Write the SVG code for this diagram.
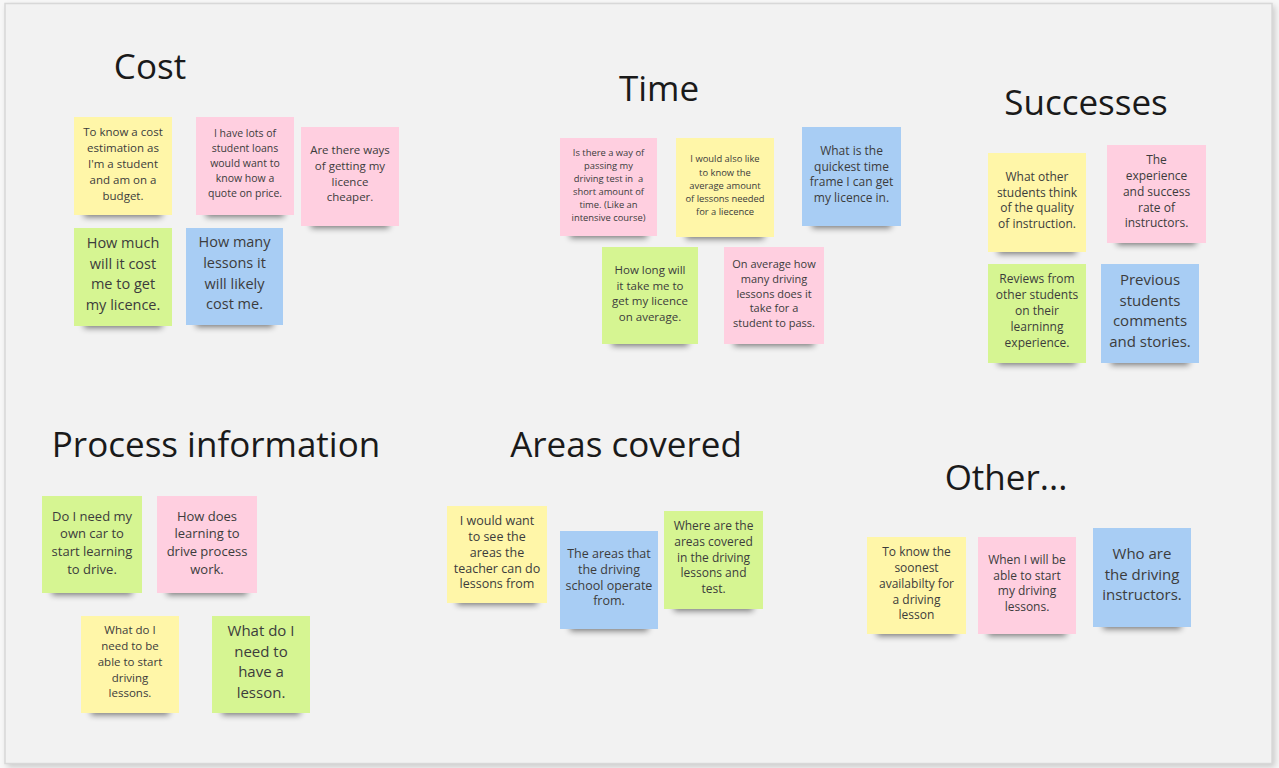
<svg xmlns="http://www.w3.org/2000/svg" width="1279" height="768" viewBox="0 0 1279 768">
<defs>
<filter id="blur" x="-20%" y="-100%" width="140%" height="300%"><feGaussianBlur stdDeviation="3"/></filter>
<filter id="frame" x="-5%" y="-5%" width="110%" height="110%"><feGaussianBlur stdDeviation="3"/></filter>
</defs>
<style>
.title{font-family:"Open Sans","Noto Sans",sans-serif;font-size:35px;fill:#1a1a1a;text-anchor:middle}
.t{font-family:"Open Sans","Noto Sans",sans-serif;fill:#3c3c3c;text-anchor:middle}
.y{fill:#fff6a8}
.p{fill:#ffcfe0}
.g{fill:#d6f592}
.b{fill:#a8cdf4}
.sh{fill:#000;opacity:0.5;filter:url(#blur)}
</style>
<rect x="0" y="0" width="1279" height="768" fill="#f7f7f7"/>
<rect x="7" y="6" width="1268" height="761" fill="#000" opacity="0.18" filter="url(#frame)"/>
<rect x="5" y="3.5" width="1267" height="760" fill="#f2f2f2" stroke="#d8d8d8" stroke-width="1.5"/>

<g id="titles">
<text class="title" x="150" y="79">Cost</text>
<text class="title" x="659" y="101">Time</text>
<text class="title" x="1086" y="115">Successes</text>
<text class="title" x="216" y="457">Process information</text>
<text class="title" x="626" y="457">Areas covered</text>
<text class="title" x="1006" y="490">Other...</text>
</g>

<g id="connectors"></g>

<!-- Cost -->
<g id="cost-1">
<rect class="sh" x="84" y="207" width="78" height="10"/>
<rect class="y" x="74" y="117" width="98" height="98"/>
<text class="t" font-size="11.5"><tspan x="123" y="136">To know a cost</tspan><tspan x="123" y="152">estimation as</tspan><tspan x="123" y="168">I'm a student</tspan><tspan x="123" y="184">and am on a</tspan><tspan x="123" y="200">budget.</tspan></text>
</g>
<g id="cost-2">
<rect class="sh" x="206" y="207" width="78" height="10"/>
<rect class="p" x="196" y="117" width="98" height="98"/>
<text class="t" font-size="10.5"><tspan x="245" y="137">I have lots of</tspan><tspan x="245" y="152">student loans</tspan><tspan x="245" y="167">would want to</tspan><tspan x="245" y="182">know how a</tspan><tspan x="245" y="197">quote on price.</tspan></text>
</g>
<g id="cost-3">
<rect class="sh" x="311" y="218" width="78" height="10"/>
<rect class="p" x="301" y="127" width="98" height="99"/>
<text class="t" font-size="11.5"><tspan x="350" y="154">Are there ways</tspan><tspan x="350" y="170">of getting my</tspan><tspan x="350" y="186">licence</tspan><tspan x="350" y="201">cheaper.</tspan></text>
</g>
<g id="cost-4">
<rect class="sh" x="84" y="318" width="78" height="10"/>
<rect class="g" x="74" y="228" width="98" height="98"/>
<text class="t" font-size="14.5"><tspan x="123" y="248">How much</tspan><tspan x="123" y="268.5">will it cost</tspan><tspan x="123" y="289">me to get</tspan><tspan x="123" y="309.5">my licence.</tspan></text>
</g>
<g id="cost-5">
<rect class="sh" x="196" y="317" width="77" height="10"/>
<rect class="b" x="186" y="228" width="97" height="97"/>
<text class="t" font-size="14.5"><tspan x="234.5" y="247">How many</tspan><tspan x="234.5" y="268">lessons it</tspan><tspan x="234.5" y="289">will likely</tspan><tspan x="234.5" y="309">cost me.</tspan></text>
</g>

<!-- Time -->
<g id="time-1">
<rect class="sh" x="570" y="228" width="77" height="10"/>
<rect class="p" x="560" y="138" width="97" height="98"/>
<text class="t" font-size="9.4" xml:space="preserve"><tspan x="608.5" y="155.5">Is there a way of</tspan><tspan x="608.5" y="168.5">passing my</tspan><tspan x="608.5" y="181.5">driving test in  a</tspan><tspan x="608.5" y="194.5">short amount of</tspan><tspan x="608.5" y="207.5">time. (Like an</tspan><tspan x="608.5" y="221">intensive course)</tspan></text>
</g>
<g id="time-2">
<rect class="sh" x="686" y="229" width="78" height="10"/>
<rect class="y" x="676" y="138" width="98" height="99"/>
<text class="t" font-size="9.4"><tspan x="725" y="162">I would also like</tspan><tspan x="725" y="175.5">to know the</tspan><tspan x="725" y="188.5">average amount</tspan><tspan x="725" y="202">of lessons needed</tspan><tspan x="725" y="215">for a liecence</tspan></text>
</g>
<g id="time-3">
<rect class="sh" x="812" y="218" width="79" height="10"/>
<rect class="b" x="802" y="127" width="99" height="99"/>
<text class="t" font-size="12"><tspan x="851.5" y="155">What is the</tspan><tspan x="851.5" y="170.5">quickest time</tspan><tspan x="851.5" y="186">frame I can get</tspan><tspan x="851.5" y="201.5">my licence in.</tspan></text>
</g>
<g id="time-4">
<rect class="sh" x="612" y="336" width="76" height="10"/>
<rect class="g" x="602" y="247" width="96" height="97"/>
<text class="t" font-size="11.5"><tspan x="650" y="274">How long will</tspan><tspan x="650" y="289.5">it take me to</tspan><tspan x="650" y="305">get my licence</tspan><tspan x="650" y="321">on average.</tspan></text>
</g>
<g id="time-5">
<rect class="sh" x="734" y="336" width="80" height="10"/>
<rect class="p" x="724" y="247" width="100" height="97"/>
<text class="t" font-size="11"><tspan x="774" y="268">On average how</tspan><tspan x="774" y="283">many driving</tspan><tspan x="774" y="297.5">lessons does it</tspan><tspan x="774" y="312">take for a</tspan><tspan x="774" y="327">student to pass.</tspan></text>
</g>

<!-- Successes -->
<g id="succ-1">
<rect class="sh" x="998" y="244" width="78" height="10"/>
<rect class="y" x="988" y="153" width="98" height="99"/>
<text class="t" font-size="12"><tspan x="1037" y="181">What other</tspan><tspan x="1037" y="196.5">students think</tspan><tspan x="1037" y="212">of the quality</tspan><tspan x="1037" y="227.5">of instruction.</tspan></text>
</g>
<g id="succ-2">
<rect class="sh" x="1117" y="235" width="79" height="10"/>
<rect class="p" x="1107" y="145" width="99" height="98"/>
<text class="t" font-size="12"><tspan x="1156.5" y="164">The</tspan><tspan x="1156.5" y="180">experience</tspan><tspan x="1156.5" y="196">and success</tspan><tspan x="1156.5" y="211.5">rate of</tspan><tspan x="1156.5" y="227">instructors.</tspan></text>
</g>
<g id="succ-3">
<rect class="sh" x="998" y="355" width="78" height="10"/>
<rect class="g" x="988" y="264" width="98" height="99"/>
<text class="t" font-size="12"><tspan x="1037" y="283">Reviews from</tspan><tspan x="1037" y="298.5">other students</tspan><tspan x="1037" y="315">on their</tspan><tspan x="1037" y="331">learninng</tspan><tspan x="1037" y="346.5">experience.</tspan></text>
</g>
<g id="succ-4">
<rect class="sh" x="1111" y="355" width="78" height="10"/>
<rect class="b" x="1101" y="264" width="98" height="99"/>
<text class="t" font-size="15"><tspan x="1150" y="285">Previous</tspan><tspan x="1150" y="305.5">students</tspan><tspan x="1150" y="326">comments</tspan><tspan x="1150" y="346.5">and stories.</tspan></text>
</g>

<!-- Process information -->
<g id="proc-1">
<rect class="sh" x="52" y="585" width="80" height="10"/>
<rect class="g" x="42" y="496" width="100" height="97"/>
<text class="t" font-size="13"><tspan x="92" y="520.5">Do I need my</tspan><tspan x="92" y="538">own car to</tspan><tspan x="92" y="555.5">start learning</tspan><tspan x="92" y="573.5">to drive.</tspan></text>
</g>
<g id="proc-2">
<rect class="sh" x="167" y="585" width="80" height="10"/>
<rect class="p" x="157" y="496" width="100" height="97"/>
<text class="t" font-size="13"><tspan x="207" y="520.5">How does</tspan><tspan x="207" y="538">learning to</tspan><tspan x="207" y="555.5">drive process</tspan><tspan x="207" y="573.5">work.</tspan></text>
</g>
<g id="proc-3">
<rect class="sh" x="91" y="705" width="78" height="10"/>
<rect class="y" x="81" y="616" width="98" height="97"/>
<text class="t" font-size="11.5"><tspan x="130" y="634">What do I</tspan><tspan x="130" y="649.5">need to be</tspan><tspan x="130" y="666">able to start</tspan><tspan x="130" y="681.5">driving</tspan><tspan x="130" y="697">lessons.</tspan></text>
</g>
<g id="proc-4">
<rect class="sh" x="222" y="705" width="78" height="10"/>
<rect class="g" x="212" y="616" width="98" height="97"/>
<text class="t" font-size="15"><tspan x="261" y="636">What do I</tspan><tspan x="261" y="657">need to</tspan><tspan x="261" y="677">have a</tspan><tspan x="261" y="698">lesson.</tspan></text>
</g>

<!-- Areas covered -->
<g id="area-1">
<rect class="sh" x="457" y="595" width="80" height="10"/>
<rect class="y" x="447" y="506" width="100" height="97"/>
<text class="t" font-size="12.5"><tspan x="497" y="524.5">I would want</tspan><tspan x="497" y="540.5">to see the</tspan><tspan x="497" y="556.5">areas the</tspan><tspan x="497" y="572.5">teacher can do</tspan><tspan x="497" y="587.5">lessons from</tspan></text>
</g>
<g id="area-2">
<rect class="sh" x="570" y="621" width="78" height="10"/>
<rect class="b" x="560" y="531" width="98" height="98"/>
<text class="t" font-size="12.5"><tspan x="609" y="557.5">The areas that</tspan><tspan x="609" y="574">the driving</tspan><tspan x="609" y="589.5">school operate</tspan><tspan x="609" y="604.5">from.</tspan></text>
</g>
<g id="area-3">
<rect class="sh" x="674" y="601" width="79" height="10"/>
<rect class="g" x="664" y="511" width="99" height="98"/>
<text class="t" font-size="12"><tspan x="713.5" y="529.5">Where are the</tspan><tspan x="713.5" y="546">areas covered</tspan><tspan x="713.5" y="561.5">in the driving</tspan><tspan x="713.5" y="577">lessons and</tspan><tspan x="713.5" y="592.5">test.</tspan></text>
</g>

<!-- Other -->
<g id="other-1">
<rect class="sh" x="877" y="626" width="79" height="10"/>
<rect class="y" x="867" y="537" width="99" height="97"/>
<text class="t" font-size="12"><tspan x="916.5" y="556">To know the</tspan><tspan x="916.5" y="571.5">soonest</tspan><tspan x="916.5" y="588">availabilty for</tspan><tspan x="916.5" y="604">a driving</tspan><tspan x="916.5" y="619">lesson</tspan></text>
</g>
<g id="other-2">
<rect class="sh" x="988" y="626" width="78" height="10"/>
<rect class="p" x="978" y="537" width="98" height="97"/>
<text class="t" font-size="12"><tspan x="1027" y="564">When I will be</tspan><tspan x="1027" y="579.5">able to start</tspan><tspan x="1027" y="595">my driving</tspan><tspan x="1027" y="611">lessons.</tspan></text>
</g>
<g id="other-3">
<rect class="sh" x="1103" y="619" width="78" height="10"/>
<rect class="b" x="1093" y="528" width="98" height="99"/>
<text class="t" font-size="15"><tspan x="1142" y="559">Who are</tspan><tspan x="1142" y="580">the driving</tspan><tspan x="1142" y="600">instructors.</tspan></text>
</g>
</svg>
